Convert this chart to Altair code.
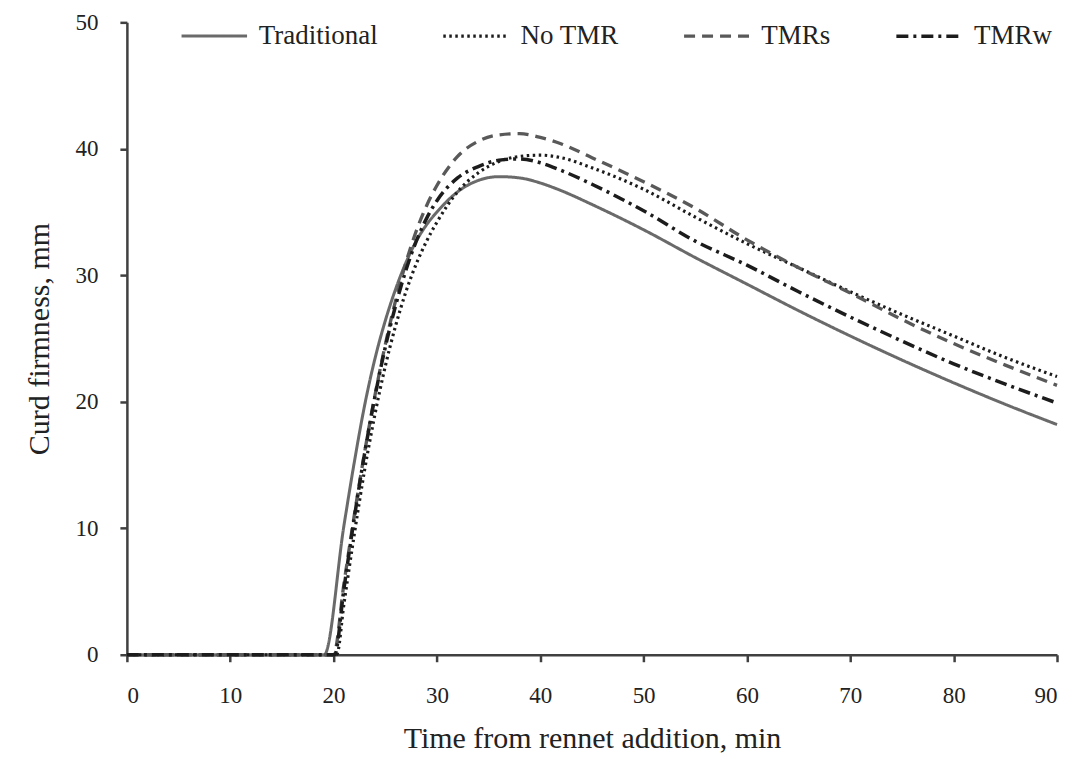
import altair as alt
import pandas as pd

# Time grid after onset (min)
time_min = [21, 22, 23, 24, 25, 26, 27, 28, 29, 30, 32, 34, 36, 38, 40, 42, 45,
            50, 55, 60, 65, 70, 75, 80, 85, 90]

series_names = ["Traditional", "No TMR", "TMRs", "TMRw"]

# Onset of curd formation (min) - firmness 0 before this
onset = [19.1, 20.3, 20.0, 20.1]

traditional = [10.2, 15.2, 19.7, 23.4, 26.4, 28.9, 31.0, 32.7, 34.0, 35.0, 36.6, 37.5, 37.8,
               37.7, 37.3, 36.7, 35.6, 33.6, 31.4, 29.3, 27.2, 25.2, 23.3, 21.5, 19.8, 18.2]
no_tmr = [4.0, 9.5, 14.6, 19.0, 22.8, 26.0, 28.7, 30.9, 32.7, 34.2, 36.6, 38.1, 39.0,
          39.4, 39.5, 39.3, 38.5, 36.8, 34.6, 32.5, 30.6, 28.7, 26.9, 25.2, 23.5, 22.0]
tmrs = [5.6, 11.0, 16.0, 20.5, 24.5, 28.0, 31.0, 33.5, 35.5, 37.1, 39.4, 40.6, 41.1,
        41.2, 40.9, 40.4, 39.3, 37.4, 35.3, 32.8, 30.6, 28.6, 26.5, 24.6, 22.9, 21.3]
tmrw = [5.2, 10.8, 15.9, 20.4, 24.3, 27.6, 30.4, 32.7, 34.5, 35.9, 37.7, 38.6, 39.1,
        39.2, 38.9, 38.3, 37.2, 35.1, 32.7, 30.8, 28.7, 26.7, 24.8, 23.0, 21.4, 19.9]

values = [traditional, no_tmr, tmrs, tmrw]

rows = []
for name, t0, vals in zip(series_names, onset, values):
    rows.append({"series": name, "time": 0.0, "firm": 0.0})
    rows.append({"series": name, "time": t0, "firm": 0.0})
    for t, v in zip(time_min, vals):
        rows.append({"series": name, "time": t, "firm": v})
df = pd.DataFrame(rows)

colors = ["#6a6a6a", "#1c1c1c", "#595959", "#1c1c1c"]
dashes = [[1, 0], [2.5, 3.5], [11, 7], [12, 5, 3, 5]]
widths = [3, 3.5, 3, 3.5]

FONT = "Liberation Serif"

leg = alt.Legend(title=None, orient="none", direction="horizontal",
                 legendX=53, legendY=-21)

lines = alt.Chart(df).mark_line(interpolate="monotone").encode(
    x=alt.X("time:Q",
            scale=alt.Scale(domain=[0, 90], nice=False, zero=False),
            axis=alt.Axis(title="Time from rennet addition, min",
                          values=list(range(0, 91, 10)),
                          labelPadding=23, titlePadding=16)),
    y=alt.Y("firm:Q",
            scale=alt.Scale(domain=[0, 50], nice=False),
            axis=alt.Axis(title="Curd firmness, mm",
                          values=list(range(0, 51, 10)),
                          labelPadding=22, titlePadding=20)),
    color=alt.Color("series:N",
                    scale=alt.Scale(domain=series_names, range=colors),
                    sort=series_names, legend=leg),
    strokeDash=alt.StrokeDash("series:N",
                              scale=alt.Scale(domain=series_names, range=dashes),
                              sort=series_names, legend=leg),
    strokeWidth=alt.StrokeWidth("series:N",
                                scale=alt.Scale(domain=series_names, range=widths),
                                legend=None),
    detail="series:N",
)

chart = lines.properties(
    width=931,
    height=633,
    background="white",
    autosize=alt.AutoSizeParams(type="none"),
    padding={"left": 119, "top": 14, "right": 8, "bottom": 100},
).configure_view(
    stroke=None
).configure_axis(
    grid=False,
    domainColor="#404040",
    domainWidth=2.5,
    tickColor="#404040",
    tickWidth=2.5,
    tickSize=7,
    labelFont=FONT,
    labelFontSize=23,
    labelColor="#222222",
    titleFont=FONT,
    titleFontSize=30,
    titleFontWeight="normal",
    titleColor="#222222",
).configure_legend(
    labelFont=FONT,
    labelFontSize=27,
    labelColor="#222222",
    symbolType="stroke",
    symbolSize=4300,
    symbolStrokeWidth=3.5,
    labelOffset=10,
    columnPadding=58,
    labelLimit=300,
)

chart.save("out.html", embed_options={"renderer": "svg", "actions": False})
